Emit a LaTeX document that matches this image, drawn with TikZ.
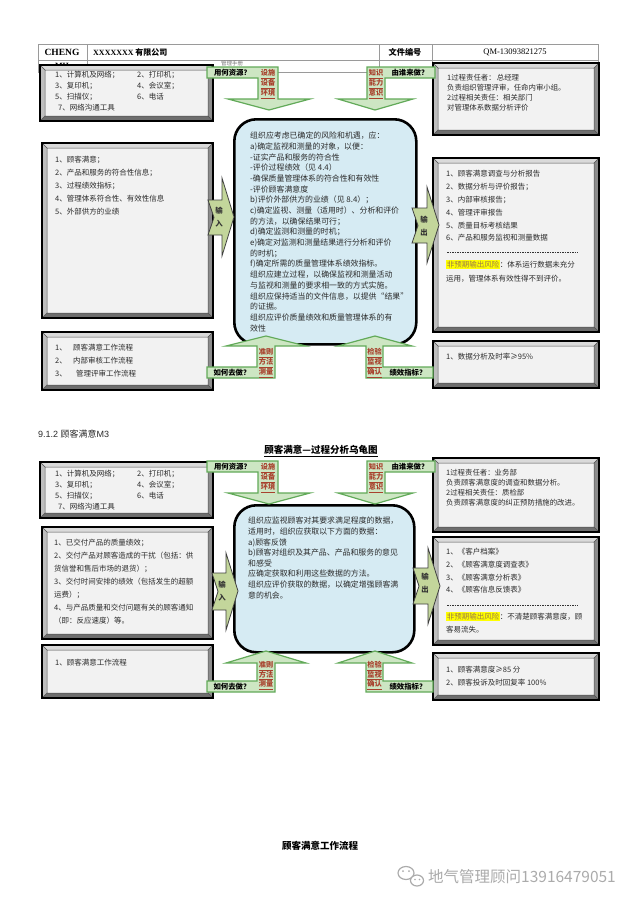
\documentclass[tikz,border=0pt]{standalone}
\usepackage{fontspec}
\setmainfont{Noto Sans CJK SC}
\newfontfamily\lserif{Liberation Serif}
\newfontfamily\lsans{Liberation Sans}
\definecolor{txtc}{HTML}{2B2B2B}
\definecolor{bvT}{HTML}{DADADA}
\definecolor{bvL}{HTML}{BEBEBE}
\definecolor{bvR}{HTML}{8C8C8C}
\definecolor{bvB}{HTML}{6E6E6E}
\definecolor{bvIn}{HTML}{F2F2F2}
\definecolor{gfill}{HTML}{CDE6C3}
\definecolor{gline}{HTML}{62AA59}
\definecolor{stemc}{HTML}{A8412D}
\definecolor{iofill}{HTML}{C3D69B}
\definecolor{cfill}{HTML}{D6EBF3}
\definecolor{hl}{HTML}{FFFF00}
\definecolor{hltxt}{HTML}{9A7A48}
\definecolor{tblc}{HTML}{9A9A9A}
\definecolor{wmc}{HTML}{ABABAB}
\tikzset{
  tx/.style 2 args={inner sep=0pt, anchor=north west, align=left, text=txtc, font=\fontsize{#1}{#2}\selectfont},
  glab/.style={inner sep=0pt, font=\bfseries\fontsize{7.4}{9}\selectfont, text=black},
  gstem/.style={inner sep=0pt, align=center, font=\bfseries\fontsize{7.2}{#1}\selectfont, text=stemc},
  garrow/.style={fill=gfill, draw=gline, line width=1.2pt, line join=miter},
  ioarrow/.style={fill=iofill, draw=black!75, line width=0.8pt, line join=miter},
  iotext/.style={inner sep=0pt, align=center, font=\bfseries\fontsize{7.4}{13}\selectfont, text=black!80},
  cbox/.style={draw=black, line width=2.6pt, fill=cfill, rounded corners=22pt, inner sep=0pt, anchor=north west},
  tbl/.style={draw=tblc, line width=0.6pt},
  dashline/.style={draw=black!80, line width=0.5pt, dash pattern=on 1.6pt off 0.9pt},
}
\newcommand{\bvbox}[4]{%
  \fill[bvT] (#1,#2) -- (#3,#2) -- (#3-5,#2+5) -- (#1+5,#2+5) -- cycle;
  \fill[bvR] (#3,#2) -- (#3,#4) -- (#3-5,#4-5) -- (#3-5,#2+5) -- cycle;
  \fill[bvB] (#3,#4) -- (#1,#4) -- (#1+5,#4-5) -- (#3-5,#4-5) -- cycle;
  \fill[bvL] (#1,#4) -- (#1,#2) -- (#1+5,#2+5) -- (#1+5,#4-5) -- cycle;
  \fill[bvIn] (#1+5,#2+5) rectangle (#3-5,#4-5);
  \draw[black!70, line width=0.5pt] (#1+5,#2+5) rectangle (#3-5,#4-5)
     (#1,#2) -- (#1+5,#2+5) (#3,#2) -- (#3-5,#2+5) (#3,#4) -- (#3-5,#4-5) (#1,#4) -- (#1+5,#4-5);
  \draw[black, line width=1.1pt] (#1,#2) rectangle (#3,#4);
}
\setlength{\fboxsep}{0.6pt}
\begin{document}
\begin{tikzpicture}[x=1pt,y=-1pt]
\useasboundingbox (0,0) rectangle (640,905);
\fill[white] (0,0) rectangle (640,905);

% ===== header table =====
\draw[tbl] (38,44) rectangle (598,72);
\draw[tbl] (38,60) -- (598,60) (87,44) -- (87,72) (379,44) -- (379,72) (432,44) -- (432,72);
\node[font=\lserif\bfseries\fontsize{9.5}{10}\selectfont, inner sep=0pt] (hcheng) at (62,52.5) {CHENG};
\node[font=\lserif\bfseries\fontsize{8}{10}\selectfont, inner sep=0pt] (hmh) at (62,66) {MH};
\node[font=\bfseries\fontsize{8}{10}\selectfont, inner sep=0pt, anchor=west] (hcomp) at (93,52) {{\lserif XXXXXXX} 有限公司};
\node[font=\bfseries\fontsize{8.2}{10}\selectfont, inner sep=0pt] (hdoc) at (405,52) {文件编号};
\node[font=\lserif\fontsize{8.5}{10}\selectfont, inner sep=0pt] (hno) at (515,52) {QM-13093821275};
\node[font=\fontsize{5.5}{6}\selectfont, text=black!55, inner sep=0pt] (hman) at (232,63) {管理手册};

% ===== diagram 1 boxes =====
\bvbox{40}{65}{213}{121}
\bvbox{42}{143}{213}{318}
\bvbox{42}{332}{213}{390}
\bvbox{433}{63}{599}{135}
\bvbox{433}{158}{599}{332}
\bvbox{433}{341}{599}{388}
\node[cbox, minimum width=182pt, minimum height=225pt] (core1) at (233,118) {};

% green arrows diagram 1
\draw[garrow] (207,67) -- (278,67) -- (278,99) -- (310,99) -- (269,110) -- (228,99) -- (258,99) -- (258,78) -- (207,78) -- cycle;
\draw[garrow] (435,67) -- (367,67) -- (367,99) -- (338,99) -- (375,110) -- (413,99) -- (385,99) -- (385,78) -- (435,78) -- cycle;
\draw[garrow] (226,346) -- (266,336) -- (306,346) -- (275,346) -- (275,378) -- (207,378) -- (207,367) -- (257,367) -- (257,346) -- cycle;
\draw[garrow] (338,346) -- (375,336) -- (412,346) -- (383,346) -- (383,367) -- (433,367) -- (433,378) -- (366,378) -- (366,346) -- cycle;
% input / output
\draw[ioarrow] (208,200) -- (222,200) -- (222,178) -- (234,217) -- (222,256) -- (222,235) -- (208,235) -- (214,217.5) -- cycle;
\draw[ioarrow] (412,208) -- (427,208) -- (427,187) -- (439,225) -- (427,263) -- (427,243) -- (412,243) -- (418,225.5) -- cycle;

% texts diagram 1
\node[tx={7.5}{11}] (res1a) at (55,71.25) {1、计算机及网络；\\3、复印机；\\5、扫描仪；};
\node[tx={7.5}{11}] (res1b) at (137,71.25) {2、打印机；\\4、会议室；\\6、电话};
\node[tx={7.5}{11}] (res1c) at (58,104.25) {7、网络沟通工具};
\node[tx={7.4}{10}] (who1) at (447,74.3) {1过程责任者：\,总经理\\负责组织管理评审，任命内审小组。\\2过程相关责任：相关部门\\对管理体系数据分析评价};
\node[tx={7.5}{12.8}] (in1) at (55,156.25) {1、顾客满意；\\2、产品和服务的符合性信息；\\3、过程绩效指标；\\4、管理体系符合性、有效性信息\\5、外部供方的业绩};
\node[tx={7.5}{13}] (how1) at (55,344.25) {\makebox[18pt][l]{1、}顾客满意工作流程\\\makebox[18pt][l]{2、}内部审核工作流程\\\makebox[21pt][l]{3、}管理评审工作流程};
\node[tx={7.5}{12.8}] (out1) at (446,170.25) {1、顾客满意调查与分析报告\\2、数据分析与评价报告；\\3、内部审核报告；\\4、管理评审报告\\5、质量目标考核结果\\6、产品和服务监视和测量数据};
\coordinate (dl1a) at (447,252);
\coordinate (dl1b) at (578,252);
\draw[dashline] (dl1a) -- (dl1b);
\node[tx={7.5}{14}] (risk1) at (446,260.25) {{\color{hltxt}\colorbox{hl}{非预期输出风险}}：体系运行数据未充分\\运用，管理体系有效性得不到评价。};
\node[tx={7.5}{13}] (kpi1) at (446,353.25) {1、数据分析及时率≥95\%};
\node[tx={7.9}{10.67}] (proc1) at (250,132.05) {组织应考虑已确定的风险和机遇，应：\\a)确定监视和测量的对象，以便：\\-证实产品和服务的符合性\\-评价过程绩效（见 4.4）\\-确保质量管理体系的符合性和有效性\\-评价顾客满意度\\b)评价外部供方的业绩（见 8.4）；\\c)确定监视、测量（适用时）、分析和评价\\的方法，以确保结果可行；\\d)确定监测和测量的时机；\\e)确定对监测和测量结果进行分析和评价\\的时机；\\f)确定所需的质量管理体系绩效指标。\\组织应建立过程，以确保监视和测量活动\\与监视和测量的要求相一致的方式实施。\\组织应保持适当的文件信息，以提供“结果”\\的证据。\\组织应评价质量绩效和质量管理体系的有\\效性};
\node[glab] (q1a) at (232.5,72.5) {用何资源？};
\node[glab] (q1b) at (410,72.5) {由谁来做？};
\node[gstem=10] (s1a) at (268,84) {\underline{设施}\\\underline{设备}\\\underline{环境}};
\node[gstem=10] (s1b) at (376,84) {\underline{知识}\\\underline{能力}\\\underline{意识}};
\node[glab] (q1c) at (232,372.5) {如何去做？};
\node[glab] (q1d) at (408,372.5) {绩效指标？};
\node[gstem=10] (s1c) at (266,363) {\underline{准则}\\\underline{方法}\\\underline{测量}};
\node[gstem=10] (s1d) at (374.5,363) {\underline{检验}\\\underline{监视}\\\underline{确认}};
\node[iotext] (io1a) at (219,217.5) {输\\入};
\node[iotext] (io1b) at (424,226) {输\\出};

% ===== section 2 headings =====
\node[inner sep=0pt, anchor=west, font=\fontsize{9}{10}\selectfont, text=txtc] (sec) at (38,434) {{\lsans 9.1.2 }顾客满意{\lsans M3}};
\node[inner sep=0pt, font=\bfseries\fontsize{9.5}{11}\selectfont] (title2) at (321,451) {\underline{顾客满意—过程分析乌龟图}};

% ===== diagram 2 boxes =====
\bvbox{40}{462}{213}{518}
\bvbox{42}{527}{213}{639}
\bvbox{42}{645}{213}{698}
\bvbox{433}{458}{599}{532}
\bvbox{433}{537}{599}{645}
\bvbox{433}{653}{599}{700}
\node[cbox, minimum width=180pt, minimum height=147pt] (core2) at (233,504) {};

\draw[garrow] (207,461) -- (278,461) -- (278,493) -- (310,493) -- (269,504) -- (228,493) -- (258,493) -- (258,472) -- (207,472) -- cycle;
\draw[garrow] (435,461) -- (367,461) -- (367,493) -- (338,493) -- (375,504) -- (413,493) -- (385,493) -- (385,472) -- (435,472) -- cycle;
\draw[garrow] (226,663) -- (266,651) -- (306,663) -- (275,663) -- (275,692) -- (207,692) -- (207,681) -- (257,681) -- (257,663) -- cycle;
\draw[garrow] (338,663) -- (375,651) -- (412,663) -- (383,663) -- (383,681) -- (433,681) -- (433,692) -- (366,692) -- (366,663) -- cycle;
\draw[ioarrow] (212,573) -- (226,573) -- (226,553) -- (238,591) -- (226,630) -- (226,610) -- (212,610) -- (218,591.5) -- cycle;
\draw[ioarrow] (413,568) -- (428,568) -- (428,548) -- (440,586) -- (428,624) -- (428,604) -- (413,604) -- (419,586) -- cycle;

\node[tx={7.5}{11}] (res2a) at (55,470.25) {1、计算机及网络；\\3、复印机；\\5、扫描仪；};
\node[tx={7.5}{11}] (res2b) at (137,470.25) {2、打印机；\\4、会议室；\\6、电话};
\node[tx={7.5}{11}] (res2c) at (58,503.25) {7、网络沟通工具};
\node[tx={7.4}{10}] (who2) at (446,469.3) {1过程责任者：业务部\\负责顾客满意度的调查和数据分析。\\2过程相关责任：质检部\\负责顾客满意度的纠正预防措施的改进。};
\node[tx={7.5}{13}] (in2) at (54,539.25) {1、已交付产品的质量绩效；\\2、交付产品对顾客造成的干扰（包括：供\\货信誉和售后市场的退货）；\\3、交付时间安排的绩效（包括发生的超额\\运费）；\\4、与产品质量和交付问题有关的顾客通知\\（即：反应速度）等。};
\node[tx={7.5}{13}] (how2) at (55,659.25) {1、顾客满意工作流程};
\node[tx={7.9}{10.6}] (proc2) at (248,517.05) {组织应监视顾客对其要求满足程度的数据，\\适用时，组织应获取以下方面的数据：\\a)顾客反馈\\b)顾客对组织及其产品、产品和服务的意见\\和感受\\应确定获取和利用这些数据的方法。\\组织应评价获取的数据，以确定增强顾客满\\意的机会。};
\node[tx={7.5}{12.6}] (out2) at (446,548.25) {1、《客户档案》\\2、《顾客满意度调查表》\\3、《顾客满意分析表》\\4、《顾客信息反馈表》};
\coordinate (dl2a) at (447,605);
\coordinate (dl2b) at (578,605);
\draw[dashline] (dl2a) -- (dl2b);
\node[tx={7.5}{13}] (risk2) at (446,612.25) {{\color{hltxt}\colorbox{hl}{非预期输出风险}}：不清楚顾客满意度，顾\\客易流失。};
\node[tx={7.5}{13}] (kpi2) at (446,666.25) {1、顾客满意度≥85 分\\2、顾客投诉及时回复率 100\%};
\node[glab] (q2a) at (232.5,466.5) {用何资源？};
\node[glab] (q2b) at (410,466.5) {由谁来做？};
\node[gstem=10] (s2a) at (268,478) {\underline{设施}\\\underline{设备}\\\underline{环境}};
\node[gstem=10] (s2b) at (376,478) {\underline{知识}\\\underline{能力}\\\underline{意识}};
\node[glab] (q2c) at (232,686.5) {如何去做？};
\node[glab] (q2d) at (408,686.5) {绩效指标？};
\node[gstem=9.5] (s2c) at (266,675.5) {\underline{准则}\\\underline{方法}\\\underline{测量}};
\node[gstem=9.5] (s2d) at (374.5,675.5) {\underline{检验}\\\underline{监视}\\\underline{确认}};
\node[iotext] (io2a) at (222,591.5) {输\\入};
\node[iotext] (io2b) at (425,583.5) {输\\出};

% ===== bottom =====
\node[inner sep=0pt, font=\bfseries\fontsize{9.5}{11}\selectfont] (flow) at (320,846) {顾客满意工作流程};
\draw[wmc, line width=1.2pt, fill=white] (406,873) ellipse [x radius=8, y radius=6.5];
\draw[wmc, line width=1.2pt, fill=white] (417,880.5) ellipse [x radius=6.5, y radius=5.5];
\fill[wmc] (403,871) circle [radius=1] (409,871) circle [radius=1] (415,879.5) circle [radius=0.8] (419.5,879.5) circle [radius=0.8];
\node[inner sep=0pt, anchor=west, font=\fontsize{15.5}{17}\selectfont, text=wmc] (wm) at (428,877) {地气管理顾问13916479051};
\end{tikzpicture}
\end{document}
